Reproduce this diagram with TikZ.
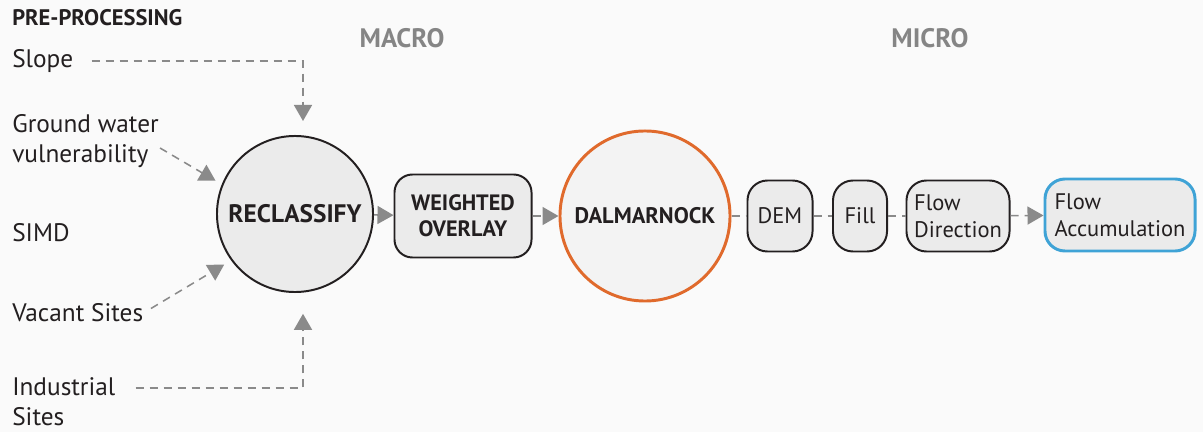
\documentclass[tikz,border=0pt]{standalone}
\usepackage{fontspec}
\setmainfont{PT Sans}
\usetikzlibrary{arrows.meta,calc}
\definecolor{Ink}{HTML}{231F20}
\definecolor{Pale}{HTML}{FAFAFA}
\definecolor{NodeFill}{HTML}{EBEBEB}
\definecolor{HubFill}{HTML}{F3F3F3}
\definecolor{LinkGray}{HTML}{8A8A8A}
\definecolor{Rust}{HTML}{E06A2C}
\definecolor{Sky}{HTML}{3FA3D6}
\definecolor{Heading}{HTML}{858585}

\begin{document}
\begin{tikzpicture}[x=0.025cm, y=-0.025cm, text=Ink,
  input/.style={anchor=west, inner sep=0pt, align=left, font=\fontsize{18}{21.5}\selectfont},
  stage/.style={inner sep=0pt, text=Heading, font=\bfseries\fontsize{19}{23}\selectfont},
  hub/.style={circle, draw=Ink, line width=1.4pt, fill=NodeFill, inner sep=0pt},
  proc/.style={draw=Ink, line width=1.4pt, fill=NodeFill, rounded corners=0.5cm, inner sep=0pt, minimum height=1.775cm, font=\fontsize{16}{19.5}\selectfont},
  feed/.style={LinkGray, line width=1.1pt, dash pattern=on 0.2cm off 0.15cm, -{Triangle[length=0.4cm, width=0.45cm]}},
  link/.style={LinkGray, line width=1.1pt, dash pattern=on 0.2cm off 0.15cm}]
\fill[Pale] (0,0) rectangle (1203,432);

% pre-processing layers
\node[anchor=west, inner sep=0pt, font=\bfseries\fontsize{16}{19}\selectfont] (pre) at (12,18) {PRE-PROCESSING};
\node[input] (slope) at (12,61) {Slope};
\node[input] (gw) at (12,141) {Ground water\\vulnerability};
\node[input] (simd) at (12,233) {SIMD};
\node[input] (vacant) at (12,313) {Vacant Sites};
\node[input] (industrial) at (12,402) {Industrial\\Sites};

\node[stage] (macro) at (402,38) {MACRO};
\node[stage] (micro) at (930,38) {MICRO};

% macro chain
\node[hub, minimum size=3.9cm, font=\bfseries\fontsize{18}{22}\selectfont] (reclass) at (295,214) {RECLASSIFY};
\node[proc, minimum width=3.425cm, minimum height=2.075cm, rounded corners=0.45cm, align=center, font=\bfseries\fontsize{15.8}{18.5}\selectfont] (overlay) at (463,216) {WEIGHTED\\OVERLAY};
\node[hub, draw=Rust, line width=2.1pt, fill=HubFill, minimum size=4.25cm, font=\bfseries\fontsize{16}{19}\selectfont] (dalmarnock) at (645,216) {DALMARNOCK};

% micro chain
\node[proc, minimum width=1.625cm] (dem) at (780,216) {DEM};
\node[proc, minimum width=1.35cm] (fillstep) at (860,216) {Fill};
\node[proc, minimum width=2.575cm, align=left] (flowdir) at (958,216) {Flow\\Direction};
\node[proc, draw=Sky, line width=2.1pt, minimum width=3.75cm, minimum height=1.8cm, align=left] (flowacc) at (1120,215) {Flow\\Accumulation};

\draw[feed, shorten <=0.45cm, shorten >=0.35cm] (slope.east) -| ([xshift=0.2cm]reclass.north);
\draw[feed, shorten >=0.18cm] ($(gw.east)+(1,7)$) -- (reclass.158);
\draw[feed, shorten <=0.22cm, shorten >=0.2cm] (vacant.east) -- (reclass.216);
\draw[feed, shorten >=0.52cm] ($(industrial.east)+(20,-14)$) -| ([xshift=0.2cm]reclass.south);

\draw[feed] (reclass) -- (overlay);
\draw[feed] (overlay) -- (dalmarnock);
\draw[link] (dalmarnock) -- (dem);
\draw[link] (dem) -- (fillstep);
\draw[link] (fillstep) -- (flowdir);
\draw[feed] (flowdir) -- (flowacc);
\end{tikzpicture}
\end{document}
